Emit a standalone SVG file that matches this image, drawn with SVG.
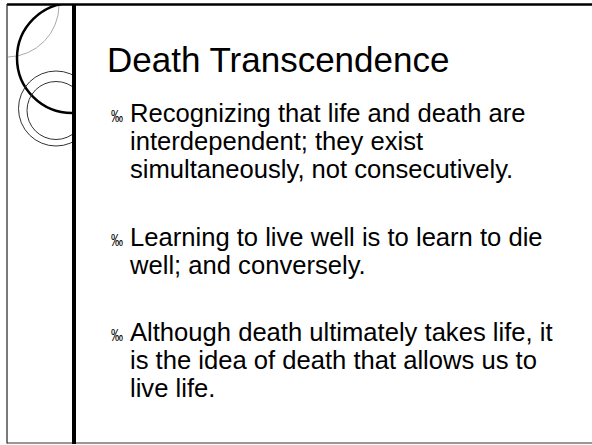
<svg xmlns="http://www.w3.org/2000/svg" width="592" height="445" viewBox="0 0 592 445">
<style>
.t{font-family:"Liberation Sans",Arial,sans-serif;fill:#000}
.title{font-size:35px}
.body{font-size:25.6px}
.bul{font-size:16px}
.ring{fill:none;stroke:#333;stroke-width:1}
</style>
<defs>
<clipPath id="left"><rect x="7" y="4" width="66" height="440"/></clipPath>
</defs>
<rect width="592" height="445" fill="#fff"/>
<g id="decor" clip-path="url(#left)">
<path d="M8,57 A52,52 0 0 0 59,5" fill="none" stroke="#aaa" stroke-width="1"/>
<circle cx="72" cy="58" r="55" fill="none" stroke="#000" stroke-width="2.5"/>
<circle class="ring" cx="56" cy="108.5" r="37.5"/>
<circle class="ring" cx="56" cy="110.5" r="29"/>
</g>
<g id="frame">
<line x1="7" y1="4.5" x2="592" y2="4.5" stroke="#000" stroke-width="2.5"/>
<line x1="7" y1="4" x2="7" y2="443.5" stroke="#222" stroke-width="1.2"/>
<line x1="7" y1="443" x2="592" y2="443" stroke="#333" stroke-width="1.2"/>
<rect x="72" y="4" width="4" height="440" fill="#000"/>
</g>
<g id="title"><text class="t title" x="107" y="72">Death Transcendence</text></g>
<g id="bullet1">
<text class="t bul" x="111" y="122" textLength="12" lengthAdjust="spacingAndGlyphs">‰</text>
<text class="t body" x="130" y="122">Recognizing that life and death are</text>
<text class="t body" x="130" y="150">interdependent; they exist</text>
<text class="t body" x="130" y="177.5">simultaneously, not consecutively.</text>
</g>
<g id="bullet2">
<text class="t bul" x="111" y="246" textLength="12" lengthAdjust="spacingAndGlyphs">‰</text>
<text class="t body" x="130" y="246">Learning to live well is to learn to die</text>
<text class="t body" x="130" y="274">well; and conversely.</text>
</g>
<g id="bullet3">
<text class="t bul" x="111" y="341" textLength="12" lengthAdjust="spacingAndGlyphs">‰</text>
<text class="t body" x="130" y="341">Although death ultimately takes life, it</text>
<text class="t body" x="130" y="368.5">is the idea of death that allows us to</text>
<text class="t body" x="130" y="396.5">live life.</text>
</g>
</svg>
